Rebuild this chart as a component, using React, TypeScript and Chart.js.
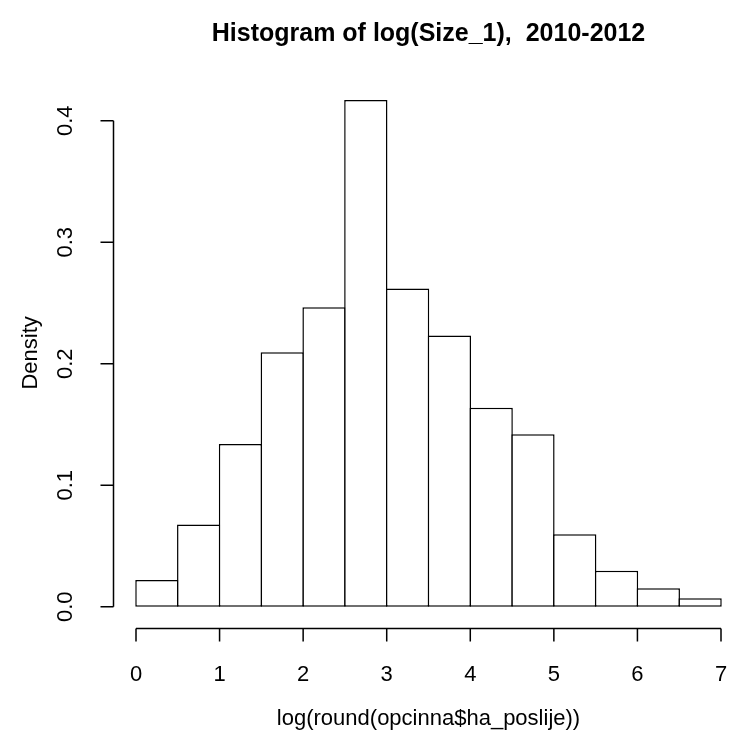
import React, { useEffect, useRef } from "react";
import { Chart, registerables } from "chart.js";

Chart.register(...registerables);

// Histogram breaks (bin edges) and densities
const breaks = [0, 0.5, 1, 1.5, 2, 2.5, 3, 3.5, 4, 4.5, 5, 5.5, 6, 6.5, 7];
const densities = [
  0.022, 0.0676, 0.134, 0.2095, 0.2465, 0.417, 0.2618, 0.2232, 0.1638, 0.1419,
  0.0596, 0.0295, 0.0151, 0.0069,
];

const xTickValues = [0, 1, 2, 3, 4, 5, 6, 7];
const xTickLabels = ["0", "1", "2", "3", "4", "5", "6", "7"];
const yTickValues = [0, 0.1, 0.2, 0.3, 0.4];
const yTickLabels = ["0.0", "0.1", "0.2", "0.3", "0.4"];

const titleText = "Histogram of log(Size_1),  2010-2012";
const xTitleText = "log(round(opcinna$ha_poslije))";
const yTitleText = "Density";

const FONT = '"Liberation Sans", Arial, Helvetica, sans-serif';
const LINE_W = 1.5;

const rAxesPlugin = {
  id: "rAxes",
  afterDraw(chart: any) {
    const ctx = chart.ctx;
    const xs = chart.scales.x;
    const ys = chart.scales.y;
    const ca = chart.chartArea;
    ctx.save();
    ctx.strokeStyle = "#000";
    ctx.fillStyle = "#000";
    ctx.lineWidth = LINE_W;
    const tick = 13;

    // x axis (detached, at bottom of plot region)
    const axY = Math.round(ca.bottom) + 0.5;
    const xa = xs.getPixelForValue(xTickValues[0]);
    const xb = xs.getPixelForValue(xTickValues[xTickValues.length - 1]);
    ctx.beginPath();
    ctx.moveTo(xa, axY);
    ctx.lineTo(xb, axY);
    xTickValues.forEach((v) => {
      const px = xs.getPixelForValue(v);
      ctx.moveTo(px, axY);
      ctx.lineTo(px, axY + tick);
    });
    ctx.stroke();
    ctx.font = `22px ${FONT}`;
    ctx.textAlign = "center";
    ctx.textBaseline = "alphabetic";
    xTickValues.forEach((v, i) => {
      ctx.fillText(xTickLabels[i], xs.getPixelForValue(v), axY + 52);
    });

    // y axis (detached, at left of plot region)
    const axX = Math.round(ca.left) + 0.5;
    const ya = ys.getPixelForValue(yTickValues[0]);
    const yb = ys.getPixelForValue(yTickValues[yTickValues.length - 1]);
    ctx.beginPath();
    ctx.moveTo(axX, ya);
    ctx.lineTo(axX, yb);
    yTickValues.forEach((v) => {
      const py = ys.getPixelForValue(v);
      ctx.moveTo(axX, py);
      ctx.lineTo(axX - tick, py);
    });
    ctx.stroke();
    yTickValues.forEach((v, i) => {
      const py = ys.getPixelForValue(v);
      ctx.save();
      ctx.translate(axX - 42, py);
      ctx.rotate(-Math.PI / 2);
      ctx.fillText(yTickLabels[i], 0, 0);
      ctx.restore();
    });

    // axis titles
    const centerX = (ca.left + xs.getPixelForValue(7.28)) / 2;
    ctx.fillText(xTitleText, centerX, 725);
    ctx.save();
    ctx.translate(37, (ca.top + ca.bottom) / 2);
    ctx.rotate(-Math.PI / 2);
    ctx.fillText(yTitleText, 0, 0);
    ctx.restore();

    // main title
    ctx.font = `bold 25px ${FONT}`;
    ctx.fillText(titleText, centerX, 41);
    ctx.restore();
  },
};

export default function App() {
  const ref = useRef<HTMLCanvasElement | null>(null);

  useEffect(() => {
    if (!ref.current) return;
    const mids = densities.map((_, i) => (breaks[i] + breaks[i + 1]) / 2);
    const binPx = 41.8; // approx pixel width of one bin, for overlap of shared borders
    const chart = new Chart(ref.current, {
      type: "bar",
      data: {
        datasets: [
          {
            data: mids.map((m, i) => ({ x: m, y: densities[i] })),
            backgroundColor: "#ffffff",
            borderColor: "#000000",
            borderWidth: LINE_W,
            borderSkipped: false,
            barPercentage: (binPx + LINE_W) / binPx,
            categoryPercentage: 1,
            clip: false,
          } as any,
        ],
      },
      options: {
        responsive: false,
        animation: false,
        events: [],
        layout: { padding: { left: 112.6, right: 13, top: 78, bottom: 115.3 } },
        plugins: {
          legend: { display: false },
          tooltip: { enabled: false },
          title: { display: false },
        },
        scales: {
          x: { type: "linear", display: false, min: -0.28, max: 7, offset: false },
          y: { type: "linear", display: false, min: -0.01728, max: 0.43515 },
        },
      },
      plugins: [rAxesPlugin],
    });
    return () => chart.destroy();
  }, []);

  return (
    <div style={{ position: "absolute", left: 0, top: 0, width: 734, height: 743, background: "#fff" }}>
      <canvas ref={ref} width={734} height={743} style={{ width: 734, height: 743, display: "block" }} />
    </div>
  );
}
